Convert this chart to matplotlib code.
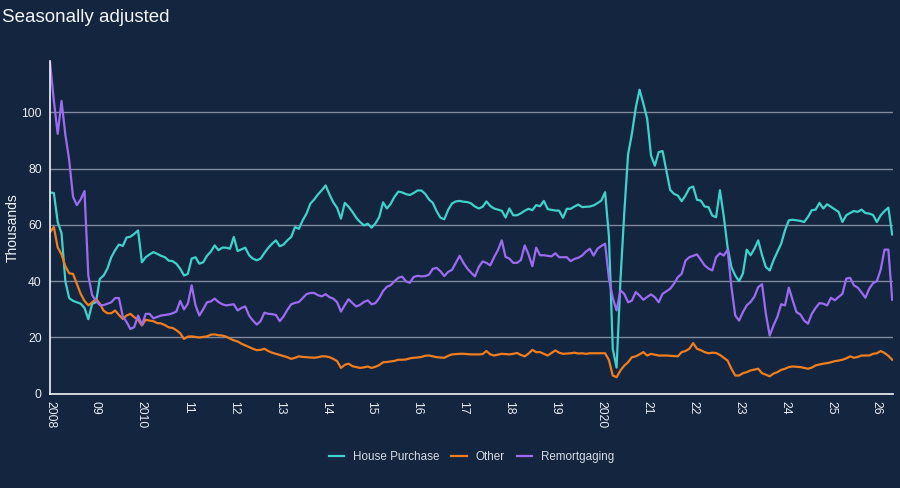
import numpy as np
import matplotlib
matplotlib.use("Agg")
import matplotlib.pyplot as plt

plt.rcParams['font.family'] = ['Liberation Sans', 'DejaVu Sans']

start_year = 2008
tick_labels = ["2008", "09", "2010", "11", "12", "13", "14", "15", "16", "17",
               "18", "19", "2020", "21", "22", "23", "24", "25", "26"]

house_purchase = [
    71.5, 71.3, 61.0, 57.0, 40.0, 34.0, 33.0, 32.5, 32.0, 30.5, 26.5, 32.0,
    32.5, 40.8, 42.0, 44.5, 48.5, 51.0, 53.0, 52.5, 55.5, 55.8, 56.8, 58.0,
    46.7, 48.5, 49.5, 50.3, 49.7, 49.0, 48.5, 47.3, 47.1, 46.2, 44.4, 42.0,
    42.6, 48.0, 48.5, 46.2, 46.7, 49.0, 50.5, 52.7, 51.0, 51.9, 51.9, 51.5,
    55.7, 50.7, 51.3, 51.9, 49.2, 48.0, 47.4, 48.0, 50.0, 51.8, 53.3, 54.5,
    52.4, 53.0, 54.5, 55.7, 59.2, 58.6, 61.6, 64.0, 67.5, 69.0, 70.8, 72.3,
    74.0, 70.8, 68.0, 66.0, 62.2, 67.8, 66.4, 64.6, 62.5, 61.0, 59.8, 60.4,
    59.0, 60.5, 62.8, 68.0, 65.8, 67.5, 70.0, 71.8, 71.5, 70.9, 70.6, 71.3,
    72.2, 72.2, 71.0, 69.0, 67.8, 64.8, 62.5, 62.0, 65.3, 67.6, 68.3, 68.5,
    68.2, 68.1, 67.6, 66.5, 65.8, 66.4, 68.3, 66.7, 65.8, 65.4, 65.0, 62.6,
    65.8, 63.4, 63.4, 64.1, 65.0, 65.7, 65.2, 67.0, 66.6, 68.5, 65.6, 65.3,
    65.1, 65.0, 62.5, 65.7, 65.7, 66.5, 67.2, 66.3, 66.4, 66.5, 66.9, 67.7,
    68.6, 71.6, 56.0, 16.0, 9.3, 40.0, 64.0, 85.0, 92.3, 101.5, 108.0, 103.0,
    97.6, 84.6, 81.0, 85.8, 86.2, 79.3, 72.4, 71.0, 70.4, 68.4, 70.4, 73.0,
    73.6, 68.9, 68.6, 66.5, 66.3, 63.3, 62.7, 72.3, 63.0, 52.0, 45.0, 42.0,
    40.0, 42.7, 51.2, 49.2, 51.5, 54.5, 49.2, 45.0, 43.8, 47.4, 50.4, 53.3,
    58.1, 61.6, 61.8, 61.6, 61.4, 61.0, 62.8, 65.2, 65.4, 67.8, 65.8, 67.3,
    66.4, 65.5, 64.6, 61.0, 63.4, 64.2, 64.9, 64.6, 65.4, 64.2, 64.0, 63.5,
    61.0, 63.4, 64.9, 66.1, 56.6,
]

other = [
    57.4, 59.2, 52.0, 49.5, 45.3, 42.8, 42.6, 39.0, 35.5, 33.0, 31.4, 32.5,
    33.7, 32.0, 29.5, 28.6, 28.6, 29.6, 28.0, 26.6, 27.8, 28.4, 27.2, 26.3,
    24.3, 26.3, 26.0, 25.8, 25.1, 25.0, 24.4, 23.6, 23.4, 22.6, 21.5, 19.5,
    20.3, 20.4, 20.2, 20.0, 20.2, 20.4, 21.0, 21.1, 20.8, 20.7, 20.3, 19.6,
    19.0, 18.6, 17.8, 17.2, 16.6, 16.0, 15.5, 15.6, 16.0, 15.2, 14.6, 14.2,
    13.8, 13.4, 13.0, 12.4, 12.8, 13.3, 13.1, 13.0, 12.9, 12.8, 13.0, 13.3,
    13.3, 13.0, 12.4, 11.6, 9.2, 10.3, 10.7, 9.8, 9.5, 9.2, 9.4, 9.7,
    9.2, 9.6, 10.2, 11.2, 11.3, 11.5, 11.7, 12.1, 12.1, 12.2, 12.6, 12.8,
    12.9, 13.1, 13.5, 13.6, 13.3, 13.0, 12.9, 12.8, 13.5, 14.0, 14.1, 14.2,
    14.2, 14.1, 14.0, 14.0, 14.0, 14.1, 15.2, 14.0, 13.6, 13.9, 14.2, 14.1,
    14.0, 14.2, 14.5, 13.8, 13.3, 14.3, 15.6, 14.8, 14.8, 14.2, 13.6, 14.5,
    15.4, 14.6, 14.2, 14.3, 14.4, 14.6, 14.3, 14.4, 14.2, 14.4, 14.4, 14.4,
    14.4, 14.4, 12.0, 6.5, 5.9, 8.3, 10.0, 11.2, 13.0, 13.3, 14.0, 14.8,
    13.6, 14.2, 13.9, 13.6, 13.6, 13.6, 13.5, 13.4, 13.3, 14.8, 15.2, 16.0,
    18.0, 16.0, 15.5, 14.8, 14.4, 14.6, 14.5, 13.8, 12.8, 11.8, 8.9, 6.5,
    6.5, 7.3, 7.7, 8.3, 8.6, 8.9, 7.3, 6.8, 6.2, 7.2, 7.7, 8.5,
    8.9, 9.5, 9.7, 9.6, 9.5, 9.2, 8.9, 9.3, 10.1, 10.4, 10.7, 10.9,
    11.2, 11.6, 11.8, 12.1, 12.6, 13.3, 12.8, 13.1, 13.6, 13.6, 13.6, 14.2,
    14.4, 15.2, 14.5, 13.5, 12.1,
]

remortgaging = [
    117.7, 104.0, 92.3, 104.0, 92.0, 83.0, 70.0, 67.0, 69.0, 72.0, 42.0, 35.0,
    33.0, 31.5, 31.5, 32.0, 32.5, 34.0, 34.0, 27.5, 25.5, 23.0, 23.7, 27.8,
    24.5, 28.4, 28.4, 26.8, 27.3, 27.8, 28.0, 28.2, 28.6, 29.2, 33.0, 30.0,
    32.0, 38.5, 31.4, 27.8, 30.0, 32.5, 32.8, 33.8, 32.6, 31.8, 31.4, 31.6,
    31.8, 29.6, 30.5, 31.0, 27.8, 26.0, 24.6, 25.8, 28.8, 28.4, 28.3, 28.0,
    25.8, 27.5, 29.8, 31.8, 32.3, 32.6, 34.0, 35.4, 35.8, 35.8, 35.0, 34.6,
    35.4, 34.3, 33.8, 32.5, 29.2, 31.5, 33.6, 32.2, 31.0, 31.6, 32.6, 33.2,
    31.8, 32.2, 34.0, 36.5, 38.0, 38.6, 40.0, 41.2, 41.6, 39.9, 39.4, 41.5,
    41.9, 41.7, 41.8, 42.3, 44.4, 44.7, 43.5, 41.8, 43.3, 44.0, 46.5, 49.0,
    46.5, 44.5, 43.0, 41.7, 45.0, 47.0, 46.5, 45.6, 48.5, 51.0, 54.5, 48.6,
    48.0, 46.5, 46.5, 47.5, 52.7, 49.5, 45.3, 51.9, 49.2, 49.2, 49.0, 48.8,
    49.9, 48.5, 48.5, 48.5, 47.1, 47.9, 48.3, 49.1, 50.5, 51.5, 49.1, 51.5,
    52.5, 53.3, 41.0, 34.0, 29.6, 36.7, 35.5, 32.5, 33.1, 36.1, 34.9, 33.4,
    34.4, 35.3, 34.3, 32.5, 35.5, 36.4, 37.3, 39.1, 41.4, 42.6, 47.3, 48.5,
    49.0, 49.5, 47.6, 45.6, 44.5, 43.8, 48.5, 49.9, 49.1, 51.2, 37.9, 27.8,
    26.0, 29.0, 31.4, 32.6, 34.5, 37.9, 38.9, 28.4, 20.7, 24.3, 27.3, 31.8,
    31.4, 37.7, 33.2, 29.0, 28.2, 26.0, 24.9, 28.4, 30.5, 32.2, 32.0, 31.4,
    34.1, 33.2, 34.4, 35.5, 40.9, 41.2, 38.5, 37.7, 36.0, 34.1, 37.3, 39.3,
    40.0, 44.1, 51.2, 51.2, 33.4,
]

series_names = ["House Purchase", "Other", "Remortgaging"]
series_colors = ["#3ED2CB", "#F07D1E", "#9B6CF2"]

BG = "#14253F"
months = np.arange(len(house_purchase))

fig = plt.figure(figsize=(9, 4.88), dpi=100, facecolor=BG)
ax = fig.add_axes([0.0556, 0.193, 0.937, 0.681], facecolor=BG)

for vals, name, col in zip([house_purchase, other, remortgaging], series_names, series_colors):
    ax.plot(months, vals, color=col, lw=1.6, label=name, solid_joinstyle='round')

ax.set_xlim(0, len(house_purchase) - 1 + 0.3)
ax.set_ylim(0, 118)
ax.set_yticks([0, 20, 40, 60, 80, 100])
ax.yaxis.grid(True, color="#7F899B", lw=1)
ax.set_axisbelow(True)
ax.set_xticks(np.arange(len(tick_labels)) * 12)
ax.set_xticklabels(tick_labels, rotation=-90, va='top', ha='center')
ax.tick_params(axis='both', length=0, colors="#E8ECF2", labelsize=8.7)
ax.tick_params(axis='y', pad=6)
ax.tick_params(axis='x', pad=5)

for s in ["top", "right"]:
    ax.spines[s].set_visible(False)
for s in ["left", "bottom"]:
    ax.spines[s].set_color("#F2F4F7")
    ax.spines[s].set_linewidth(1.2)

ax.set_ylabel("Thousands", color="#F2F4F7", fontsize=10)
ax.yaxis.set_label_coords(-0.036, 0.5)

fig.text(0.002, 0.965, "Seasonally adjusted", color="#F2F4F7", fontsize=13.5,
         ha='left', va='center')

leg = fig.legend(loc='center', bbox_to_anchor=(0.524, 0.063), ncol=3, frameon=False,
                 fontsize=8.4, handlelength=1.3, handletextpad=0.8, columnspacing=1.0)
for t in leg.get_texts():
    t.set_color("#D6DBE3")

fig.savefig("out.png", dpi=100, facecolor=BG)
